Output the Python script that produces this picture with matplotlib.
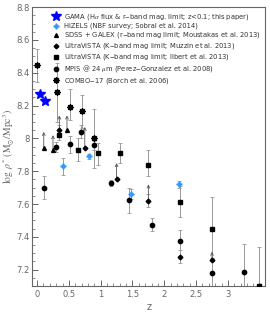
import matplotlib
matplotlib.use("Agg")
import matplotlib.pyplot as plt
from matplotlib.ticker import MultipleLocator

plt.rcParams['mathtext.fontset'] = 'stix'

# ---------------- data ----------------
gama_z = [0.05, 0.13]
gama_rho = [8.27, 8.23]

hiz_z = [0.40, 0.81, 1.47, 2.23]
hiz_rho = [7.83, 7.89, 7.66, 7.72]
hiz_err = [0.05, 0.015, 0.03, 0.02]

sdss_z = [0.105, 0.25, 0.47]
sdss_rho = [7.94, 7.93, 8.05]
sdss_arrow = [8.04, 8.02, 8.14]

muz_z = [0.35, 0.75, 1.25, 1.75, 2.25, 2.75]
muz_rho = [8.05, 7.94, 7.75, 7.62, 7.28, 7.26]
muz_err = [0.03, 0.0, 0.0, 0.04, 0.04, 0.0]
muz_arrow = [8.14, 8.07, 7.85, 7.72, None, 7.31]

ilb_z = [0.35, 0.65, 0.96, 1.30, 1.75, 2.25, 2.75, 3.49]
ilb_rho = [8.02, 7.93, 7.91, 7.91, 7.84, 7.61, 7.45, 7.10]
ilb_lo = [0.03, 0.07, 0.07, 0.06, 0.07, 0.09, 0.18, 0.20]
ilb_hi = [0.03, 0.07, 0.06, 0.06, 0.09, 0.10, 0.19, 0.24]

mpis_z = [0.105, 0.30, 0.51, 0.69, 0.90, 1.157, 1.45, 1.80, 2.25, 2.75, 3.25]
mpis_rho = [7.70, 7.947, 7.963, 8.04, 7.957, 7.727, 7.626, 7.473, 7.373, 7.18, 7.184]
mpis_lo = [0.07, 0.03, 0.05, 0.04, 0.03, 0.02, 0.08, 0.04, 0.09, 0.15, 0.15]
mpis_hi = [0.07, 0.03, 0.05, 0.04, 0.03, 0.02, 0.07, 0.04, 0.07, 0.07, 0.17]

combo_z = [0.0, 0.31, 0.51, 0.71, 0.90]
combo_rho = [8.445, 8.28, 8.19, 8.165, 8.00]
combo_lo = [0.10, 0.18, 0.08, 0.10, 0.18]
combo_hi = [0.10, 0.18, 0.11, 0.10, 0.18]

# ---------------- figure ----------------
fig = plt.figure(figsize=(2.7, 3.24), dpi=100)
ax = fig.add_axes([0.1185, 0.117, 0.8645, 0.861])

ecol = '#999999'
ebar = dict(fmt='none', ecolor=ecol, elinewidth=0.7, capsize=1.6, capthick=0.6, zorder=1)

ax.errorbar(combo_z, combo_rho, yerr=[combo_lo, combo_hi], **ebar)
ax.errorbar(mpis_z, mpis_rho, yerr=[mpis_lo, mpis_hi], **ebar)
ax.errorbar(ilb_z, ilb_rho, yerr=[ilb_lo, ilb_hi], **ebar)
ax.errorbar(muz_z, muz_rho, yerr=muz_err, **ebar)
ax.errorbar(hiz_z, hiz_rho, yerr=hiz_err, **ebar)

# lower-limit arrows
for zz, r0, r1 in list(zip(sdss_z, sdss_rho, sdss_arrow)) + list(zip(muz_z, muz_rho, muz_arrow)):
    if r1 is None:
        continue
    ax.annotate('', xy=(zz, r1), xytext=(zz, r0),
                arrowprops=dict(arrowstyle='->', color='#555555', lw=0.6,
                                shrinkA=0, shrinkB=0, mutation_scale=5),
                zorder=1)

ax.plot(gama_z, gama_rho, '*', color='#0000ff', ms=7.5, ls='none', zorder=5,
        label=r'GAMA (H$\alpha$ flux & r$-$band mag. limit; z<0.1; this paper)')
ax.plot(hiz_z, hiz_rho, marker=(4, 1, 0), color='#3399ff', ms=4, ls='none', zorder=4,
        label='HiZELS (NBF survey; Sobral et al. 2014)')
ax.plot(sdss_z, sdss_rho, '^', color='k', ms=2.8, ls='none', zorder=3,
        label=r'SDSS + GALEX (r$-$band mag limit; Moustakas et al. 2013)')
ax.plot(muz_z, muz_rho, 'D', color='k', ms=2.4, ls='none', zorder=3,
        label=r'UltraVISTA (K$-$band mag limit; Muzzin et al. 2013)')
ax.plot(ilb_z, ilb_rho, 's', color='k', ms=2.5, ls='none', zorder=3,
        label=r'UltraVISTA (K$-$band mag limit; Ilbert et al. 2013)')
ax.plot(mpis_z, mpis_rho, 'o', color='k', ms=3.1, ls='none', zorder=3,
        label=r'MPIS @ 24 $\mu$m (Perez$-$Gonzalez et al. 2008)')
ax.plot(combo_z, combo_rho, marker=(8, 1, 0), color='k', ms=4.3, ls='none', zorder=3,
        label=r'COMBO$-$17 (Borch et al. 2006)')

ax.set_xlim(-0.08, 3.59)
ax.set_ylim(7.1, 8.8)
ax.xaxis.set_minor_locator(MultipleLocator(0.1))
ax.yaxis.set_minor_locator(MultipleLocator(0.05))
ax.set_xticks([0, 0.5, 1, 1.5, 2, 2.5, 3])
ax.set_xticklabels(['0', '0.5', '1', '1.5', '2', '2.5', '3'])
ax.set_yticks([7.2, 7.4, 7.6, 7.8, 8.0, 8.2, 8.4, 8.6, 8.8])
ax.set_yticklabels(['7.2', '7.4', '7.6', '7.8', '8', '8.2', '8.4', '8.6', '8.8'])

gcol = '#666666'
for s in ax.spines.values():
    s.set_color(gcol)
    s.set_linewidth(0.8)
ax.tick_params(which='both', direction='in', colors=gcol, labelsize=6, top=False, right=False)
ax.tick_params(which='major', length=4, width=0.7)
ax.tick_params(which='minor', length=2, width=0.5)
ax.tick_params(axis='y', pad=1.5)
ax.tick_params(axis='x', pad=3)

ax.set_xlabel('z', fontsize=7, color=gcol, labelpad=2)
ax.set_ylabel(r'$\log\ \rho^{*}\ (\mathrm{M_{\odot}/Mpc^{3}})$', fontsize=7, color=gcol)
ax.yaxis.set_label_coords(-0.068, 0.5)

leg = ax.legend(loc='upper right', fontsize=4.9, frameon=False, handlelength=1.2,
                handletextpad=0.5, labelspacing=0.15, borderaxespad=0.3, markerscale=1.0)
for t in leg.get_texts():
    t.set_color('#333333')

fig.savefig('out.png', dpi=100)
